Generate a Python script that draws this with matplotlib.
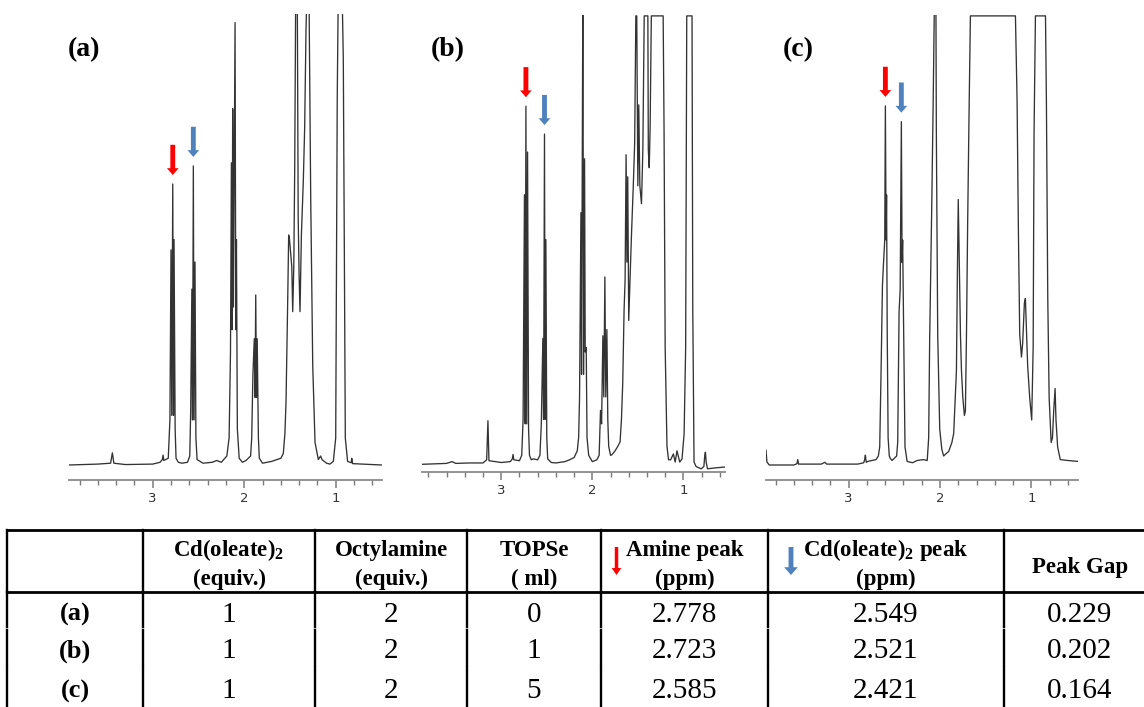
import numpy as np
import matplotlib
matplotlib.use('Agg')
import matplotlib.pyplot as plt
from matplotlib.ticker import MultipleLocator, FormatStrFormatter

# spectra: (ppm, relative intensity), 1.0 = top of the panel
a_points = [
    (3.915, 0.000), (3.600, 0.002), (3.460, 0.004), (3.441, 0.027), (3.425, 0.004),
    (3.300, 0.001), (3.000, 0.002), (2.920, 0.006), (2.895, 0.012), (2.887, 0.022),
    (2.879, 0.010), (2.860, 0.012), (2.830, 0.015), (2.812, 0.100), (2.800, 0.477),
    (2.792, 0.110), (2.781, 0.623), (2.773, 0.110), (2.767, 0.500), (2.755, 0.080),
    (2.745, 0.015), (2.720, 0.006), (2.680, 0.004), (2.620, 0.006), (2.595, 0.020),
    (2.585, 0.120), (2.572, 0.390), (2.565, 0.100), (2.556, 0.663), (2.548, 0.100),
    (2.538, 0.450), (2.528, 0.060), (2.515, 0.012), (2.450, 0.004), (2.350, 0.006),
    (2.300, 0.010), (2.250, 0.006), (2.190, 0.020), (2.165, 0.060), (2.150, 0.250),
    (2.140, 0.670), (2.132, 0.300), (2.126, 0.790), (2.118, 0.350), (2.100, 0.981),
    (2.092, 0.300), (2.085, 0.500), (2.075, 0.080), (2.055, 0.015), (2.020, 0.006),
    (1.980, 0.010), (1.930, 0.020), (1.918, 0.060), (1.905, 0.200), (1.890, 0.280),
    (1.882, 0.150), (1.874, 0.377), (1.866, 0.150), (1.858, 0.280), (1.845, 0.060),
    (1.835, 0.015), (1.800, 0.004), (1.700, 0.008), (1.600, 0.015), (1.573, 0.025),
    (1.555, 0.070), (1.543, 0.140), (1.525, 0.360), (1.514, 0.510), (1.505, 0.500),
    (1.480, 0.440), (1.470, 0.340), (1.458, 0.440), (1.448, 0.660), (1.437, 1.050),
    (1.420, 1.050), (1.410, 0.550), (1.400, 0.420), (1.390, 0.340), (1.375, 0.510),
    (1.354, 0.630), (1.339, 0.750), (1.325, 0.960), (1.315, 1.050), (1.292, 1.050),
    (1.273, 0.590), (1.251, 0.220), (1.226, 0.050), (1.190, 0.012), (1.165, 0.020),
    (1.150, 0.012), (1.100, 0.004), (1.063, 0.002), (1.026, 0.008), (1.000, 0.060),
    (0.983, 0.820), (0.972, 1.050), (0.930, 1.050), (0.917, 0.900), (0.905, 0.450),
    (0.895, 0.060), (0.870, 0.008), (0.830, 0.005), (0.825, 0.015), (0.815, 0.003),
    (0.494, 0.000),
]
b_points = [
    (3.870, 0.000), (3.600, 0.002), (3.540, 0.006), (3.500, 0.002), (3.350, 0.003),
    (3.200, 0.003), (3.160, 0.010), (3.146, 0.097), (3.135, 0.008), (3.000, 0.004),
    (2.900, 0.006), (2.878, 0.012), (2.870, 0.022), (2.862, 0.010), (2.800, 0.008),
    (2.775, 0.020), (2.760, 0.100), (2.745, 0.600), (2.737, 0.090), (2.729, 0.797),
    (2.720, 0.090), (2.711, 0.695), (2.700, 0.080), (2.690, 0.020), (2.670, 0.010),
    (2.650, 0.012), (2.600, 0.010), (2.575, 0.020), (2.560, 0.090), (2.543, 0.280),
    (2.535, 0.100), (2.525, 0.735), (2.518, 0.100), (2.510, 0.500), (2.500, 0.060),
    (2.490, 0.012), (2.450, 0.004), (2.400, 0.003), (2.300, 0.006), (2.250, 0.010),
    (2.200, 0.015), (2.165, 0.030), (2.150, 0.060), (2.140, 0.150), (2.125, 0.560),
    (2.118, 0.200), (2.104, 1.050), (2.095, 0.200), (2.085, 0.680), (2.078, 0.250),
    (2.067, 0.260), (2.058, 0.060), (2.040, 0.020), (2.000, 0.006), (1.950, 0.010),
    (1.925, 0.020), (1.910, 0.120), (1.898, 0.090), (1.884, 0.286), (1.874, 0.150),
    (1.862, 0.417), (1.852, 0.150), (1.840, 0.300), (1.830, 0.100), (1.820, 0.040),
    (1.800, 0.020), (1.786, 0.021), (1.750, 0.030), (1.720, 0.040), (1.695, 0.050),
    (1.680, 0.100), (1.666, 0.180), (1.651, 0.344), (1.640, 0.410), (1.629, 0.689),
    (1.620, 0.450), (1.611, 0.640), (1.600, 0.320), (1.585, 0.417), (1.570, 0.510),
    (1.550, 0.620), (1.535, 0.714), (1.522, 0.998), (1.512, 0.998), (1.500, 0.620),
    (1.490, 0.800), (1.478, 0.620), (1.460, 0.580), (1.445, 0.700), (1.430, 0.998),
    (1.390, 0.998), (1.385, 0.700), (1.375, 0.660), (1.365, 0.750), (1.352, 0.998),
    (1.222, 0.998), (1.212, 0.740), (1.200, 0.260), (1.180, 0.040), (1.163, 0.010),
    (1.140, 0.010), (1.110, 0.023), (1.090, 0.005), (1.070, 0.030), (1.040, 0.005),
    (1.015, 0.012), (0.992, 0.068), (0.975, 0.260), (0.963, 0.998), (0.905, 0.998),
    (0.897, 0.350), (0.883, 0.005), (0.860, -0.005), (0.805, -0.010), (0.775, -0.005),
    (0.765, 0.020), (0.758, 0.027), (0.750, 0.005), (0.735, -0.010), (0.650, -0.008),
    (0.543, -0.006),
]
c_points = [
    (3.905, 0.033), (3.895, 0.007), (3.870, 0.000), (3.600, 0.000), (3.565, 0.003),
    (3.558, 0.012), (3.548, 0.002), (3.300, 0.002), (3.260, 0.006), (3.240, 0.002),
    (2.900, 0.002), (2.835, 0.005), (2.825, 0.012), (2.817, 0.022), (2.808, 0.006),
    (2.790, 0.008), (2.700, 0.012), (2.675, 0.020), (2.660, 0.040), (2.645, 0.210),
    (2.630, 0.400), (2.618, 0.450), (2.605, 0.500), (2.598, 0.798), (2.590, 0.500),
    (2.585, 0.600), (2.578, 0.300), (2.568, 0.060), (2.555, 0.020), (2.545, 0.015),
    (2.525, 0.010), (2.500, 0.015), (2.475, 0.020), (2.463, 0.050), (2.448, 0.340),
    (2.436, 0.390), (2.423, 0.763), (2.415, 0.450), (2.409, 0.500), (2.398, 0.300),
    (2.383, 0.040), (2.360, 0.008), (2.300, 0.005), (2.250, 0.010), (2.180, 0.012),
    (2.140, 0.010), (2.124, 0.060), (2.113, 0.280), (2.090, 0.580), (2.075, 0.800),
    (2.060, 1.050), (2.045, 1.050), (2.040, 0.740), (2.025, 0.290), (2.003, 0.080),
    (1.980, 0.035), (1.960, 0.020), (1.935, 0.025), (1.905, 0.030), (1.870, 0.050),
    (1.850, 0.070), (1.820, 0.210), (1.810, 0.420), (1.800, 0.590), (1.788, 0.440),
    (1.776, 0.290), (1.765, 0.210), (1.750, 0.150), (1.733, 0.110), (1.722, 0.120),
    (1.710, 0.290), (1.697, 0.540), (1.680, 0.810), (1.667, 0.998), (1.174, 0.998),
    (1.156, 0.810), (1.141, 0.510), (1.127, 0.290), (1.108, 0.240), (1.095, 0.270),
    (1.076, 0.360), (1.065, 0.370), (1.055, 0.310), (1.040, 0.220), (1.018, 0.150),
    (0.996, 0.100), (0.980, 0.260), (0.970, 0.740), (0.955, 0.998), (0.845, 0.998),
    (0.835, 0.810), (0.820, 0.370), (0.805, 0.150), (0.783, 0.050), (0.769, 0.060),
    (0.755, 0.120), (0.740, 0.170), (0.730, 0.100), (0.712, 0.040), (0.683, 0.012),
    (0.600, 0.010), (0.489, 0.008),
]

# table
row_labels = ['(a)', '(b)', '(c)']
cd_oleate_equiv = [1, 1, 1]
octylamine_equiv = [2, 2, 2]
topse_ml = [0, 1, 5]
amine_peak = [2.778, 2.723, 2.585]
cd_peak = [2.549, 2.521, 2.421]
peak_gap = [0.229, 0.202, 0.164]

RED = '#ff0000'
BLUE = '#4f81bd'
W, H = 1144, 707

plt.rcParams['mathtext.fontset'] = 'custom'
plt.rcParams['mathtext.rm'] = 'Liberation Serif:bold'
plt.rcParams['mathtext.bf'] = 'Liberation Serif:bold'

fig = plt.figure(figsize=(W / 100, H / 100), dpi=100)


def px_axes(x0, y0, x1, y1):
    return fig.add_axes([x0 / W, 1 - y1 / H, (x1 - x0) / W, (y1 - y0) / H])


def arrow(ax, x, y_tip, y_tail, color, scale, head_w=1.2, head_l=0.7):
    style = 'simple,head_length=%s,head_width=%s,tail_width=0.5' % (head_l, head_w)
    ax.annotate('', xy=(x, y_tip), xytext=(x, y_tail),
                arrowprops=dict(arrowstyle=style, color=color, lw=0,
                                shrinkA=0, shrinkB=0, mutation_scale=scale))


# (label, points, box px, baseline px, xlim, label pos)
panels = [
    ('(a)', a_points, (69, 14, 382, 480), 465.0, (3.915, 0.494), (84, 49.5)),
    ('(b)', b_points, (422, 15, 725, 472), 464.3, (3.870, 0.543), (448, 49.5)),
    ('(c)', c_points, (766, 15, 1078, 480), 465.0, (3.905, 0.489), (798, 49.5)),
]

for i, (lab, pts, box, base, xl, lpos) in enumerate(panels):
    ax = px_axes(*box)
    ppm, inten = np.array(pts).T
    ax.plot(ppm, inten, color='#333333', lw=0.95)
    ax.set_xlim(*xl)
    x0, y0, x1, y1 = box
    ax.set_ylim(-(y1 - base) / (base - y0), 1)
    for s in ['top', 'left', 'right']:
        ax.spines[s].set_visible(False)
    ax.spines['bottom'].set_color('#8a8a8a')
    ax.spines['bottom'].set_linewidth(1.3)
    ax.set_yticks([])
    ax.xaxis.set_major_locator(MultipleLocator(1))
    ax.xaxis.set_minor_locator(MultipleLocator(0.2))
    ax.xaxis.set_major_formatter(FormatStrFormatter('%d'))
    ax.tick_params(axis='x', which='both', direction='out', colors='#7a7a7a',
                   labelcolor='#333333', labelsize=9.5, pad=3)
    ax.tick_params(axis='x', which='major', length=5.5, width=1.1)
    ax.tick_params(axis='x', which='minor', length=3.5, width=1)
    ax.set_facecolor('none')

    # arrows above the amine / Cd(oleate)2 peaks
    for val, col in [(amine_peak[i], RED), (cd_peak[i], BLUE)]:
        near = np.abs(ppm - val) < 0.02
        j = np.argmax(inten[near])
        xp, top = ppm[near][j], inten[near][j]
        arrow(ax, xp, top + 0.02, top + 0.087, col, 7)

# overlay in pixel coordinates for labels and the table
ov = fig.add_axes([0, 0, 1, 1])
ov.set_xlim(0, W)
ov.set_ylim(H, 0)
ov.axis('off')

serif = 'Liberation Serif'
for lab, pts, box, base, xl, lpos in panels:
    ov.text(lpos[0], lpos[1], lab, family=serif, fontweight='bold', fontsize=20,
            ha='center', va='center')

col_x = [7, 143, 315, 467, 601, 768, 1004, 1156]
top_y, head_y = 530, 592
row_base = [621.7, 658.3, 698.3]
seg = [(592, 627.3), (629.5, 665), (667.2, 712)]
lw_t = 1.7

ov.plot([col_x[0], col_x[-1]], [top_y, top_y], color='black', lw=lw_t + 0.3)
ov.plot([col_x[0], col_x[-1]], [head_y, head_y], color='black', lw=lw_t + 0.3)
for x in col_x:
    ov.plot([x, x], [top_y, head_y], color='black', lw=lw_t)
    for s0, s1 in seg:
        ov.plot([x, x], [s0, s1], color='black', lw=lw_t)

centers = [(col_x[k] + col_x[k + 1]) / 2 for k in range(len(col_x) - 1)]
headers = [
    None,
    ('Cd(oleate)$_\\mathbf{2}$', '(equiv.)'),
    ('Octylamine', '(equiv.)'),
    ('TOPSe', '( ml)'),
    ('Amine peak', '(ppm)'),
    ('Cd(oleate)$_\\mathbf{2}$ peak', '(ppm)'),
    ('Peak Gap',),
]
hfs = 16.5
for k, h in enumerate(headers):
    if h is None:
        continue
    cx = centers[k]
    if len(h) == 2:
        ov.text(cx, 556, h[0], family=serif, fontweight='bold', fontsize=hfs,
                ha='center', va='baseline')
        ov.text(cx, 585, h[1], family=serif, fontweight='bold', fontsize=hfs,
                ha='center', va='baseline')
    else:
        ov.text(cx, 573, h[0], family=serif, fontweight='bold', fontsize=hfs,
                ha='center', va='baseline')

arrow(ov, 616.5, 575, 547, RED, 5, head_w=1.4, head_l=1.0)
arrow(ov, 791, 575, 547, BLUE, 7, head_w=1.4, head_l=0.8)

columns = [row_labels,
           [str(v) for v in cd_oleate_equiv],
           [str(v) for v in octylamine_equiv],
           [str(v) for v in topse_ml],
           ['%.3f' % v for v in amine_peak],
           ['%.3f' % v for v in cd_peak],
           ['%.3f' % v for v in peak_gap]]
for k, vals in enumerate(columns):
    for r, v in enumerate(vals):
        if k == 0:
            ov.text(centers[k], row_base[r] - 1, v, family=serif, fontweight='bold',
                    fontsize=19, ha='center', va='baseline')
        else:
            ov.text(centers[k], row_base[r], v, family=serif, fontsize=21,
                    ha='center', va='baseline')

fig.savefig('out.png', dpi=100)
